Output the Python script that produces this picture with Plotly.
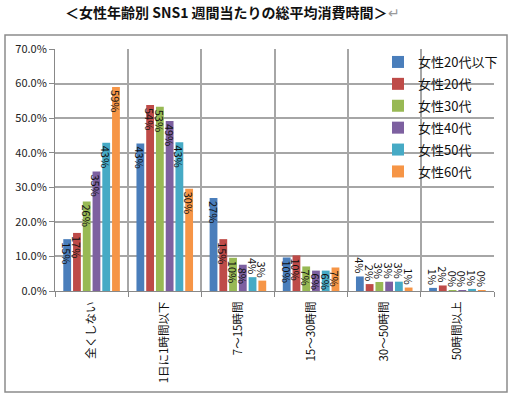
import plotly.graph_objects as go

categories = ["全くしない", "1日に1時間以下", "7～15時間", "15～30時間", "30～50時間", "50時間以上"]
series_names = ["女性20代以下", "女性20代", "女性30代", "女性40代", "女性50代", "女性60代"]
v_u20 = [15.0, 42.7, 26.9, 9.7, 4.2, 0.9]
v_20 = [16.8, 53.8, 15.0, 10.3, 2.0, 1.6]
v_30 = [25.9, 53.3, 9.6, 7.1, 2.6, 0.2]
v_40 = [34.6, 49.2, 7.6, 5.9, 2.7, 0.2]
v_50 = [42.9, 43.0, 4.0, 5.9, 2.7, 0.6]
v_60 = [59.0, 29.6, 3.0, 6.8, 1.0, 0.2]
y_ticks = [0, 10, 20, 30, 40, 50, 60, 70]

series_values = [v_u20, v_20, v_30, v_40, v_50, v_60]
colors = ["#4A7EBB", "#BE4B48", "#98B954", "#7D60A0", "#46AAC5", "#F69546"]

FONT = "Noto Sans CJK JP"

fig = go.Figure()
for i, (name, vals) in enumerate(zip(series_names, series_values)):
    fig.add_trace(go.Bar(
        x=categories, y=vals, name=name,
        marker=dict(color=colors[i], line=dict(width=0)),
        text=[f"{v:.0f}%" for v in vals],
        textposition=["inside" if v >= 5 else "outside" for v in vals],
        insidetextanchor="end",
        textangle=90,
        constraintext="none",
        cliponaxis=False,
        textfont=dict(family=FONT, size=11, color="#111111"),
        legendgroup=name,
    ))

W, H = 511, 395
ml, mr, mt, mb = 55, 17, 49, 104
pw, ph = W - ml - mr, H - mt - mb

def px(x):
    return (x - ml) / pw

def py(y):
    return (H - mb - y) / ph

fig.update_layout(
    width=W, height=H,
    margin=dict(l=ml, r=mr, t=mt, b=mb, autoexpand=False),
    paper_bgcolor="white", plot_bgcolor="white",
    barmode="group", bargap=0.2, bargroupgap=0.2,
    uniformtext=dict(minsize=11, mode="show"),
    font=dict(family=FONT, size=11, color="#222222"),
    showlegend=True,
    legend=dict(
        x=px(378), y=py(47), xanchor="left", yanchor="top",
        bgcolor="rgba(0,0,0,0)", font=dict(family=FONT, size=13, color="#111111"),
        tracegroupgap=2, itemwidth=30,
    ),
    xaxis=dict(
        type="category", tickson="boundaries", showgrid=True, automargin=False,
        gridcolor="#A6A6A6", gridwidth=1.5,
        ticks="outside", ticklen=5, tickcolor="#888888",
        showline=True, linecolor="#888888", linewidth=1,
        tickangle=-90, ticklabelstandoff=5,
        tickfont=dict(family=FONT, size=11.5, color="#111111"),
    ),
    yaxis=dict(
        range=[0, 70], tickvals=y_ticks, ticktext=[f"{t:.1f}%" for t in y_ticks],
        showgrid=True, gridcolor="#A6A6A6", gridwidth=1.5, automargin=False,
        ticks="outside", ticklen=5, tickcolor="#888888",
        showline=True, linecolor="#888888", linewidth=1,
        tickfont=dict(family=FONT, size=11, color="#222222"),
        zeroline=False,
    ),
    shapes=[dict(
        type="rect", xref="paper", yref="paper",
        x0=px(5), x1=px(507), y0=py(392), y1=py(35),
        line=dict(color="#8C8C8C", width=1.5), fillcolor="rgba(0,0,0,0)", layer="below",
    )],
    annotations=[dict(
        xref="paper", yref="paper", x=px(232), y=py(12),
        xanchor="center", yanchor="middle", showarrow=False,
        text="<b>＜女性年齢別 SNS1 週間当たりの総平均消費時間＞</b><span style='color:#9a9a9a'>↵</span>",
        font=dict(family=FONT, size=14, color="#111111"),
    )],
)

fig.write_html("out.html", config={"displayModeBar": False},
               post_script="document.body.style.margin='0';")
